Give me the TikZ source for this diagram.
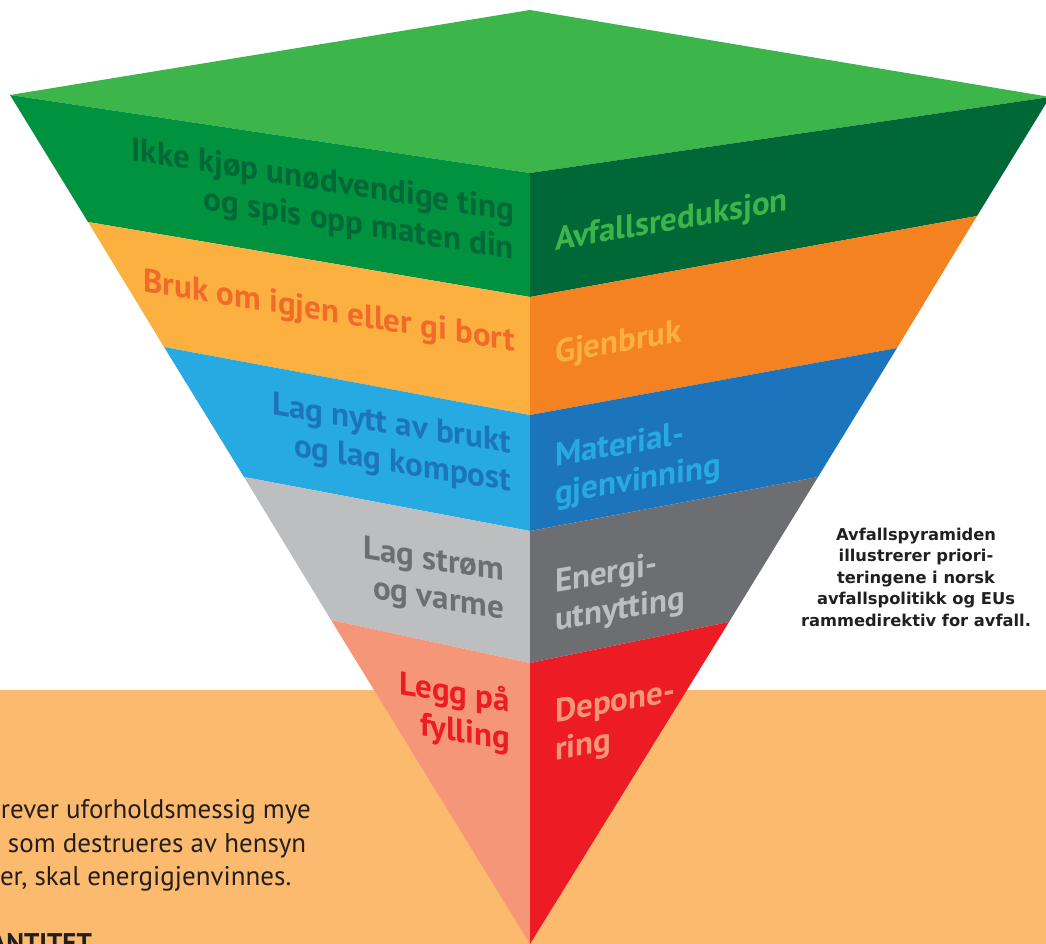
\documentclass[tikz,border=0pt]{standalone}
\usepackage{fontspec}
\setmainfont{PT Sans}
\newfontfamily\notefont{DejaVu Sans}
\usetikzlibrary{positioning}

\definecolor{topgreen}{HTML}{3CB54A}
\definecolor{greenL}{HTML}{00923F}
\definecolor{greenR}{HTML}{006837}
\definecolor{orangeL}{HTML}{FBB040}
\definecolor{orangeR}{HTML}{F58220}
\definecolor{orangeT}{HTML}{F26A2A}
\definecolor{blueL}{HTML}{27AAE1}
\definecolor{blueR}{HTML}{1C75BC}
\definecolor{grayL}{HTML}{BCBEC0}
\definecolor{grayR}{HTML}{6D6E71}
\definecolor{redL}{HTML}{F69679}
\definecolor{redR}{HTML}{ED1C24}
\definecolor{bgorange}{HTML}{FBBA6E}
\definecolor{ink}{HTML}{231F20}

\begin{document}
\begin{tikzpicture}[x=1pt, y=-1pt, every node/.style={inner sep=0,outer sep=0}, 
	lft/.style={yslant=-0.16, align=right, anchor=east, font=\fontsize{33}{38}\selectfont\bfseries},
	rgt/.style={yslant=0.17, align=left, anchor=west, font=\fontsize{33}{38}\selectfont\bfseries},
	body/.style={anchor=base west, text=ink, font=\fontsize{27}{33}\selectfont}]
		
		\useasboundingbox (0,0) rectangle (1046,944);
		\fill[bgorange] (0,690) rectangle (1046,944);
		
		%Corners
		\coordinate (T)  at (530,10);
		\coordinate (L0) at (10,95);   \coordinate (C0) at (530,173); \coordinate (R0) at (1050,97);
		\coordinate (L1) at (88,222);  \coordinate (C1) at (530,297); \coordinate (R1) at (977,216);
		\coordinate (L2) at (164,347); \coordinate (C2) at (530,415); \coordinate (R2) at (897,348);
		\coordinate (L3) at (244,477); \coordinate (C3) at (530,531); \coordinate (R3) at (818,477);
		\coordinate (L4) at (331,620); \coordinate (C4) at (530,663); \coordinate (R4) at (729,622);
		\coordinate (tip) at (530,944);
		
		%Faces
		\fill[topgreen] (L0) -- (T) -- (R0) -- (C0) -- cycle;
		\fill[greenL]  (L0) -- (C0) -- (C1) -- (L1) -- cycle;
		\fill[greenR]  (C0) -- (R0) -- (R1) -- (C1) -- cycle;
		\fill[orangeL] (L1) -- (C1) -- (C2) -- (L2) -- cycle;
		\fill[orangeR] (C1) -- (R1) -- (R2) -- (C2) -- cycle;
		\fill[blueL]   (L2) -- (C2) -- (C3) -- (L3) -- cycle;
		\fill[blueR]   (C2) -- (R2) -- (R3) -- (C3) -- cycle;
		\fill[grayL]   (L3) -- (C3) -- (C4) -- (L4) -- cycle;
		\fill[grayR]   (C3) -- (R3) -- (R4) -- (C4) -- cycle;
		\fill[redL]    (L4) -- (C4) -- (tip) -- cycle;
		\fill[redR]    (C4) -- (R4) -- (tip) -- cycle;
		
		%Labels
		\node[lft, text=greenR] (11) at (514,232) {Ikke kjøp unødvendige ting\\og spis opp maten din};
		\node[rgt, text=topgreen] (12) at (555,242) {Avfallsreduksjon};
		\node[lft, text=orangeT] (21) at (515,343) {Bruk om igjen eller gi bort};
		\node[rgt, text=orangeL] (22) at (555,355) {Gjenbruk};
		\node[lft, text=blueR] (31) at (511,464) {Lag nytt av brukt\\og lag kompost};
		\node[rgt, text=blueL] (32) at (555,477) {Material-\\gjenvinning};
		\node[lft, text=grayR] (41) at (504,592) {Lag strøm\\og varme};
		\node[rgt, text=grayL] (42) at (555,603) {Energi-\\utnytting};
		\node[lft, text=redR] (51) at (510,722) {Legg på\\fylling};
		\node[rgt, text=redL] (52) at (555,733) {Depone-\\ring};
		
		\node[align=center, text=ink, font=\fontsize{16.3}{21.5}\selectfont\notefont\bfseries] (6) at (916,577) {Avfallspyramiden\\illustrerer priori-\\teringene i norsk\\avfallspolitikk og EUs\\rammedirektiv for avfall.};
		
		\node[body] (71) at (1,818) {rever uforholdsmessig mye};
		\node[body] (72) at (8,852) {som destrueres av hensyn};
		\node[body] (73) at (0,885) {er, skal energigjenvinnes.};
		\node[body, font=\fontsize{27}{33}\selectfont\bfseries] (74) at (-10,952) {ANTITET};
	\end{tikzpicture}
\end{document}
